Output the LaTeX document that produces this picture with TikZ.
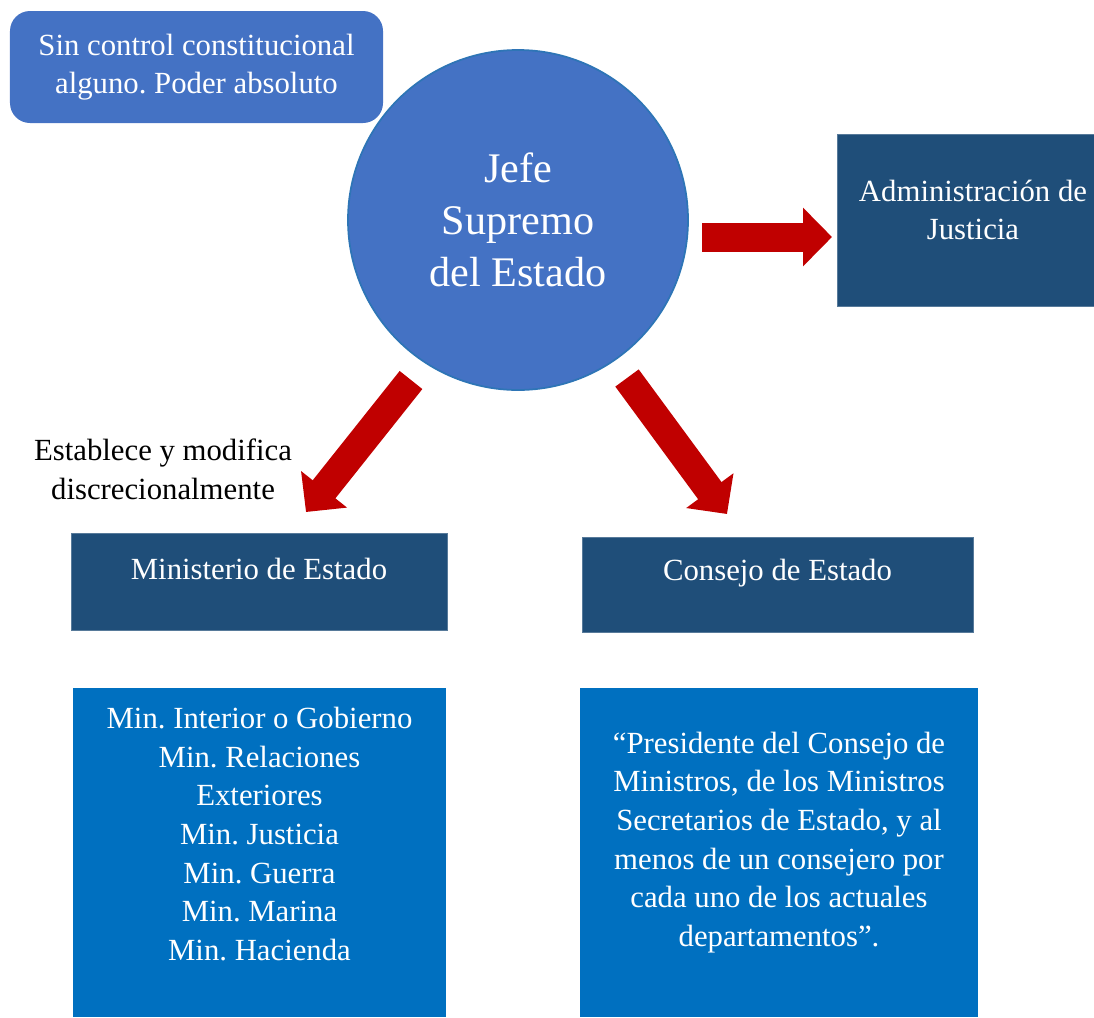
\documentclass[tikz,border=0pt]{standalone}
\usepackage{fontspec}
\setmainfont{Liberation Serif}
\frenchspacing
\usetikzlibrary{arrows.meta}
\definecolor{jefeblue}{RGB}{68,114,196}
\definecolor{jefeedge}{RGB}{46,117,182}
\definecolor{navyblue}{RGB}{31,78,121}
\definecolor{listblue}{RGB}{0,112,192}
\definecolor{arrowred}{RGB}{192,0,0}

\begin{document}
\begin{tikzpicture}[
  boxfont/.style={font=\fontsize{17.5}{22}\selectfont, text=white, align=center},
  navybox/.style={fill=navyblue, draw=navyblue!75!white, line width=0.5pt, inner sep=0pt},
  listbox/.style={fill=listblue, inner sep=0pt},
  bigarrow/.style={arrowred, line width=0.58cm, -{Triangle[length=0.58cm, width=1.14cm]}}
]
\useasboundingbox (0,0) rectangle (21.88,-20.34);

% Draw the note and the head of state
\node[fill=jefeblue, rounded corners=0.4cm, minimum width=7.46cm, minimum height=2.24cm, boxfont] (note) at (3.93,-1.34) {Sin control constitucional\\alguno. Poder absoluto};
\node[circle, fill=jefeblue, draw=jefeedge, line width=1pt, minimum size=6.8cm, inner sep=0pt, text=white, align=center, font=\fontsize{24}{29.6}\selectfont] (jefe) at (10.36,-4.4) {Jefe\\Supremo\\del Estado};

% Draw dependent bodies
\node[navybox, minimum width=5.14cm, minimum height=3.44cm, label={[name=adminT, boxfont, xshift=0.15cm, yshift=0.2cm]center:{Administración de\\Justicia}}] (admin) at (19.31,-4.4) {};
\node[navybox, minimum width=7.52cm, minimum height=1.94cm, label={[name=minT, boxfont, yshift=0.25cm]center:{Ministerio de Estado}}] (min) at (5.18,-11.63) {};
\node[navybox, minimum width=7.82cm, minimum height=1.9cm, label={[name=consT, boxfont, yshift=0.23cm]center:{Consejo de Estado}}] (cons) at (15.55,-11.69) {};

% Draw member lists
\node[listbox, minimum width=7.46cm, minimum height=6.58cm, label={[name=minlistT, boxfont, yshift=0.37cm]center:{Min. Interior o Gobierno\\Min. Relaciones\\Exteriores\\Min. Justicia\\Min. Guerra\\Min. Marina\\Min. Hacienda}}] (minlist) at (5.19,-17.05) {};
\node[listbox, minimum width=7.96cm, minimum height=6.58cm, label={[name=conslistT, boxfont, yshift=0.2cm]center:{“Presidente del Consejo de\\Ministros, de los Ministros\\Secretarios de Estado, y al\\menos de un consejero por\\cada uno de los actuales\\departamentos”.}}] (conslist) at (15.58,-17.05) {};

% Label
\node[font=\fontsize{17.5}{22}\selectfont, align=center] (estab) at (3.26,-9.38) {Establece y modifica\\discrecionalmente};

% Draw arrows
\coordinate (jefeE) at (14.04,-4.74);
\coordinate (adminW) at (16.64,-4.74);
\coordinate (jefeSW) at (8.22,-7.6);
\coordinate (minN) at (6.12,-10.24);
\coordinate (jefeSE) at (12.54,-7.56);
\coordinate (consN) at (14.54,-10.28);
\draw[bigarrow] (jefeE) -- (adminW);
\draw[bigarrow] (jefeSW) -- (minN);
\draw[bigarrow] (jefeSE) -- (consN);
\end{tikzpicture}
\end{document}
